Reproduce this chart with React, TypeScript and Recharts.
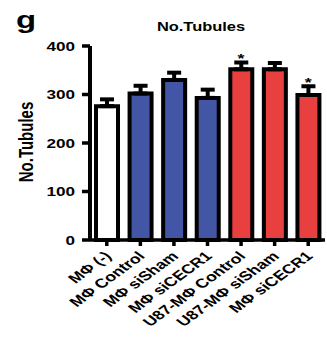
import React from 'react';
import { ComposedChart, Bar, Cell, XAxis, YAxis, ErrorBar, Line, LabelList } from 'recharts';

const categories = ['MΦ (-)', 'MΦ Control', 'MΦ siSham', 'MΦ siCECR1', 'U87-MΦ Control', 'U87-MΦ siSham', 'MΦ siCECR1'];
const tubules = [276, 302, 330, 293, 352, 352, 299];
const upperErrors = [14, 16, 15, 17, 14, 13, 18];
const significance = ['', '', '', '', '*', '', '*'];
const barColors = ['#ffffff', '#4356A6', '#4356A6', '#4356A6', '#E8403F', '#E8403F', '#E8403F'];
const yTicks = [0, 100, 200, 300, 400];

const data = categories.map((name, i) => ({
  name,
  value: tubules[i],
  err: [0, upperErrors[i]],
  top: tubules[i] + upperErrors[i],
  sig: significance[i],
}));

const FONT = '"Liberation Sans", Arial, Helvetica, sans-serif';
const SX = 1.37; // horizontal stretch of the original figure's lettering

const renderXTick = (props: any) => {
  const { x, y, payload } = props;
  const ax = Number(x) + 5.5;
  const ay = Number(y) + 9;
  return (
    <g transform={`translate(${ax},${ay}) scale(${SX},1) rotate(-45)`}>
      <text x={0} y={0} textAnchor="end" fontFamily={FONT} fontWeight="bold" fontSize={13} fill="#000">
        {payload.value}
      </text>
    </g>
  );
};

const renderYTick = (props: any) => {
  const { x, y, payload } = props;
  return (
    <g transform={`translate(${x},${y}) scale(${SX},1)`}>
      <text x={0} y={0} dy="0.36em" textAnchor="end" fontFamily={FONT} fontWeight="bold" fontSize={12.5} fill="#000">
        {payload.value}
      </text>
    </g>
  );
};

const StarLabel = (props: any) => {
  const { x, y, value } = props;
  if (!value) return null;
  return (
    <g transform={`translate(${x},${y + 1}) scale(${SX},1)`}>
      <text x={0} y={0} textAnchor="middle" fontFamily={FONT} fontWeight="bold" fontSize={13} fill="#000">
        {value}
      </text>
    </g>
  );
};

const YLabel = (props: any) => {
  const vb = props.viewBox || {};
  const cy = vb.y + vb.height / 2 - 1;
  return (
    <g transform={`translate(32.5,${cy}) scale(${SX},1) rotate(-90)`}>
      <text x={0} y={0} textAnchor="middle" fontFamily={FONT} fontWeight="bold" fontSize={15} fill="#000">
        No.Tubules
      </text>
    </g>
  );
};

export default function App() {
  return (
    <div style={{ position: 'absolute', left: 0, top: 0, width: 327, height: 339, background: '#fff' }}>
      <svg width={327} height={339} style={{ position: 'absolute', left: 0, top: 0 }}>
        <g transform={`translate(16,28) scale(${SX},1)`}>
          <text x={0} y={0} fontFamily={FONT} fontWeight="bold" fontSize={24} fill="#000">g</text>
        </g>
        <g transform={`translate(201,30.5) scale(${SX},1)`}>
          <text x={0} y={0} textAnchor="middle" fontFamily={FONT} fontWeight="bold" fontSize={12} fill="#000">No.Tubules</text>
        </g>
      </svg>
      <div style={{ position: 'absolute', left: 0, top: 0 }}>
        <ComposedChart width={327} height={339} data={data} margin={{ top: 46, right: 2, bottom: 0, left: 0 }} barCategoryGap={0}>
          <XAxis
            dataKey="name"
            height={99}
            interval={0}
            tick={renderXTick}
            axisLine={{ stroke: '#000', strokeWidth: 3.5 }}
            tickLine={{ stroke: '#000', strokeWidth: 3.5 }}
            tickSize={6}
          />
          <YAxis
            width={90}
            domain={[0, 400]}
            ticks={yTicks}
            interval={0}
            axisLine={{ stroke: '#000', strokeWidth: 4 }}
            tickLine={{ stroke: '#000', strokeWidth: 3.5 }}
            tickSize={8}
            tickMargin={7}
            tick={renderYTick}
            label={<YLabel />}
          />
          <Bar dataKey="value" barSize={22} stroke="#000" strokeWidth={4} isAnimationActive={false}>
            {data.map((d, i) => (
              <Cell key={i} fill={barColors[i]} />
            ))}
            <ErrorBar dataKey="err" width={7} stroke="#000" strokeWidth={4} direction="y" />
          </Bar>
          <Line dataKey="top" stroke="none" dot={false} activeDot={false} isAnimationActive={false}>
            <LabelList dataKey="sig" content={<StarLabel />} />
          </Line>
        </ComposedChart>
      </div>
    </div>
  );
}
